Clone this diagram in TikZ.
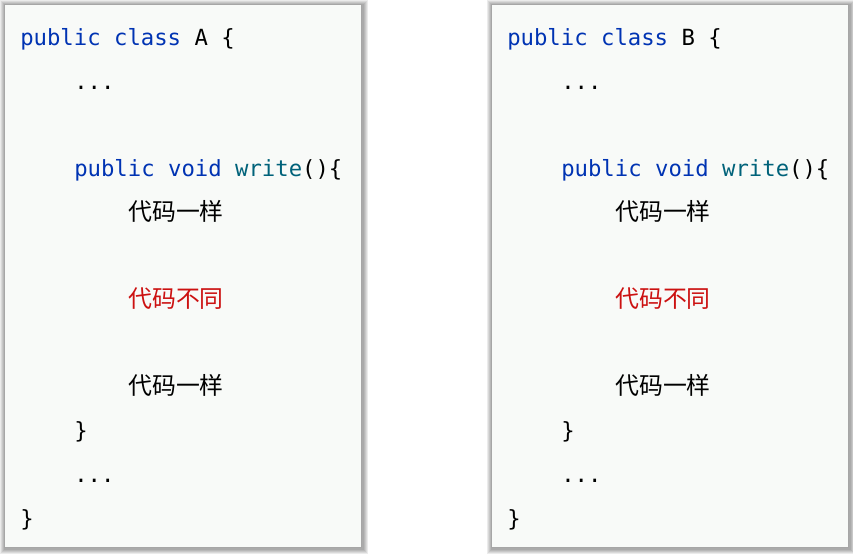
\documentclass[tikz,border=0pt]{standalone}
\usepackage{fontspec}
\setmonofont{DejaVu Sans Mono}
\newfontfamily\cjk{Noto Sans CJK SC}
\usetikzlibrary{positioning}
\definecolor{kw}{HTML}{0033B3}
\definecolor{fn}{HTML}{00627A}
\definecolor{diff}{HTML}{CC1111}
\definecolor{paper}{HTML}{F8FAF8}

\begin{document}
\begin{tikzpicture}[x=0.75pt,y=-0.75pt]
\tikzstyle{code}=[anchor=base west,inner sep=0pt,font=\ttfamily\fontsize{16.7}{20}\selectfont]
\tikzstyle{zh}=[anchor=base west,inner sep=0pt,font=\cjk\fontsize{17.9}{20}\selectfont]
\useasboundingbox (0,0) rectangle (853,554);
\foreach \c/\dx in {A/0,B/487} {
  \begin{scope}[shift={(\dx,0)}]
  % shadow and panel
  \foreach \i in {1,...,5}
    \fill[black,opacity=0.08] (4-\i+1,4-\i+1) rectangle (361+\i+1.5,547+\i+1.5);
  \fill[paper] (4,4) rectangle (361,547);
  \draw[black!35,line width=0.6pt] (4,4) rectangle (361,547);
  % code lines
  \node[code] (\c-head) at (20,45) {\textcolor{kw}{public class} \c\ \{};
  \node[code] (\c-dots1) at (74,89) {...};
  \node[code] (\c-write) at (74,176) {\textcolor{kw}{public void} \textcolor{fn}{write}()\{};
  \node[zh] (\c-same1) at (128,220) {代码一样};
  \node[zh,text=diff] (\c-diff) at (128,307) {代码不同};
  \node[zh] (\c-same2) at (128,394) {代码一样};
  \node[code] (\c-close1) at (74,438) {\}};
  \node[code] (\c-dots2) at (74,482) {...};
  \node[code] (\c-close2) at (20,526) {\}};
  \end{scope}
}
\end{tikzpicture}
\end{document}
